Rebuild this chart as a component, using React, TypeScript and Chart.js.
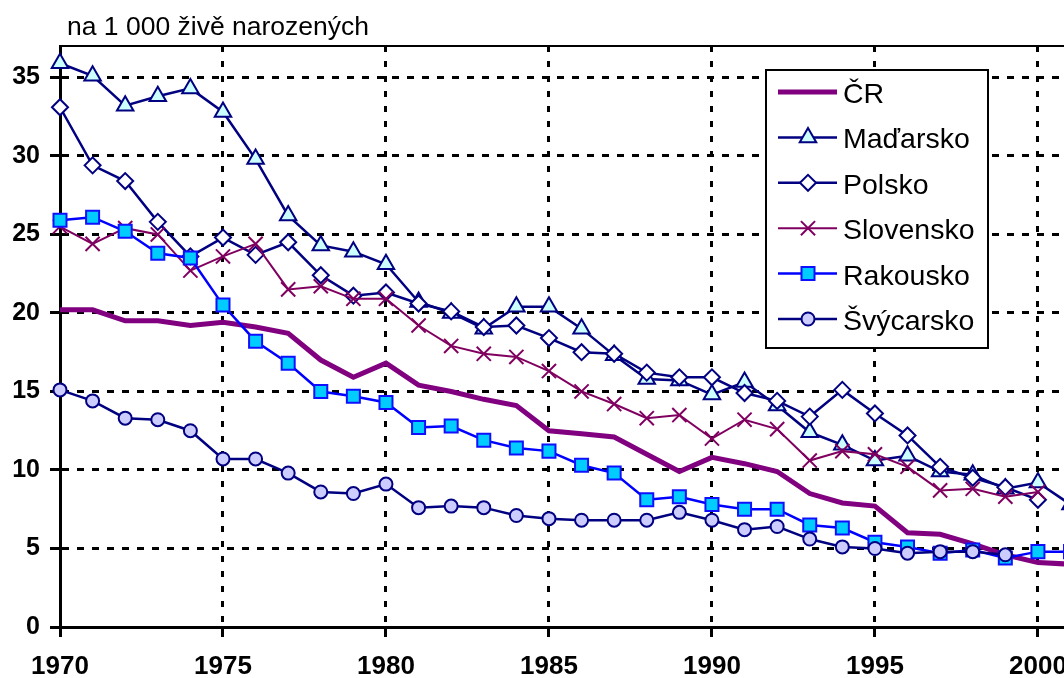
import React, { useEffect, useRef } from "react";
import { Chart, registerables } from "chart.js";

Chart.register(...registerables);

const years = [
  1970, 1971, 1972, 1973, 1974, 1975, 1976, 1977, 1978, 1979,
  1980, 1981, 1982, 1983, 1984, 1985, 1986, 1987, 1988, 1989,
  1990, 1991, 1992, 1993, 1994, 1995, 1996, 1997, 1998, 1999,
  2000, 2001,
];

const cr = [
  20.2, 20.2, 19.5, 19.5, 19.2, 19.4, 19.1, 18.7, 17.0, 15.9,
  16.8, 15.4, 15.0, 14.5, 14.1, 12.5, 12.3, 12.1, 11.0, 9.9,
  10.8, 10.4, 9.9, 8.5, 7.9, 7.7, 6.0, 5.9, 5.3, 4.6,
  4.1, 4.0,
];

const madarsko = [
  35.9, 35.1, 33.2, 33.8, 34.3, 32.8, 29.8, 26.2, 24.3, 23.9,
  23.1, 20.7, 20.0, 19.0, 20.4, 20.4, 19.0, 17.3, 15.8, 15.7,
  14.8, 15.6, 14.1, 12.4, 11.6, 10.6, 10.9, 9.9, 9.7, 8.8,
  9.2, 7.8,
];

const polsko = [
  33.1, 29.4, 28.4, 25.8, 23.6, 24.8, 23.7, 24.5, 22.4, 21.1,
  21.3, 20.6, 20.1, 19.1, 19.2, 18.4, 17.5, 17.4, 16.2, 15.9,
  15.9, 14.9, 14.4, 13.4, 15.1, 13.6, 12.2, 10.2, 9.5, 8.9,
  8.1, null,
];

const slovensko = [
  25.5, 24.4, 25.4, 25.0, 22.7, 23.6, 24.4, 21.5, 21.7, 20.9,
  20.9, 19.2, 17.9, 17.4, 17.2, 16.3, 15.0, 14.2, 13.3, 13.5,
  12.0, 13.2, 12.6, 10.6, 11.2, 11.0, 10.2, 8.7, 8.8, 8.3,
  8.6, null,
];

const rakousko = [
  25.9, 26.1, 25.2, 23.8, 23.5, 20.5, 18.2, 16.8, 15.0, 14.7,
  14.3, 12.7, 12.8, 11.9, 11.4, 11.2, 10.3, 9.8, 8.1, 8.3,
  7.8, 7.5, 7.5, 6.5, 6.3, 5.4, 5.1, 4.7, 4.9, 4.4,
  4.8, 4.8,
];

const svycarsko = [
  15.1, 14.4, 13.3, 13.2, 12.5, 10.7, 10.7, 9.8, 8.6, 8.5,
  9.1, 7.6, 7.7, 7.6, 7.1, 6.9, 6.8, 6.8, 6.8, 7.3,
  6.8, 6.2, 6.4, 5.6, 5.1, 5.0, 4.7, 4.8, 4.8, 4.6,
  null, null,
];

const seriesLabels = ["ČR", "Maďarsko", "Polsko", "Slovensko", "Rakousko", "Švýcarsko"];
const xTickValues = [1970, 1975, 1980, 1985, 1990, 1995, 2000];
const yTickValues = [0, 5, 10, 15, 20, 25, 30, 35];
const yTitle = "na 1 000 živě narozených";

const FONT = "'Liberation Sans', Arial, sans-serif";

function toPoints(values: (number | null)[]) {
  return years.map((y, i) => ({ x: y, y: values[i] }));
}

function drawMarker(
  ctx: CanvasRenderingContext2D,
  style: string,
  x: number,
  y: number,
  r: number,
  fill: string,
  stroke: string,
  lw: number
) {
  ctx.beginPath();
  if (style === "triangle") {
    ctx.moveTo(x, y - r);
    ctx.lineTo(x + r * 0.866, y + r * 0.5);
    ctx.lineTo(x - r * 0.866, y + r * 0.5);
    ctx.closePath();
  } else if (style === "rectRot") {
    ctx.moveTo(x - r, y);
    ctx.lineTo(x, y - r);
    ctx.lineTo(x + r, y);
    ctx.lineTo(x, y + r);
    ctx.closePath();
  } else if (style === "rect") {
    const s = r * Math.SQRT1_2;
    ctx.rect(x - s, y - s, 2 * s, 2 * s);
  } else if (style === "circle") {
    ctx.arc(x, y, r, 0, Math.PI * 2);
  } else if (style === "crossRot") {
    const s = r * Math.SQRT1_2;
    ctx.moveTo(x - s, y - s);
    ctx.lineTo(x + s, y + s);
    ctx.moveTo(x + s, y - s);
    ctx.lineTo(x - s, y + s);
  }
  if (style !== "crossRot" && fill) {
    ctx.fillStyle = fill;
    ctx.fill();
  }
  ctx.lineWidth = lw;
  ctx.strokeStyle = stroke;
  ctx.stroke();
}

const overlayPlugin = {
  id: "overlay",
  afterDraw(chart: any) {
    const ctx: CanvasRenderingContext2D = chart.ctx;
    const { left, top } = chart.chartArea;
    ctx.save();
    // top frame line
    ctx.strokeStyle = "#000";
    ctx.lineWidth = 2;
    ctx.beginPath();
    ctx.moveTo(left - 1, top);
    ctx.lineTo(chart.width, top);
    ctx.stroke();

    // axis title
    ctx.fillStyle = "#000";
    ctx.font = `26.5px ${FONT}`;
    ctx.textAlign = "left";
    ctx.textBaseline = "alphabetic";
    ctx.fillText(yTitle, 67, 35);

    // legend
    const bx = 766, by = 70, bw = 222, bh = 278;
    ctx.fillStyle = "#fff";
    ctx.fillRect(bx, by, bw, bh);
    ctx.lineWidth = 2;
    ctx.strokeStyle = "#000";
    ctx.strokeRect(bx, by, bw, bh);

    const datasets = chart.data.datasets;
    ctx.font = `28.5px ${FONT}`;
    datasets.forEach((ds: any, i: number) => {
      const cy = 92 + i * 45.4;
      ctx.beginPath();
      ctx.moveTo(778, cy);
      ctx.lineTo(837, cy);
      ctx.lineWidth = ds.borderWidth;
      ctx.strokeStyle = ds.borderColor;
      ctx.stroke();
      if (ds.pointRadius > 0) {
        drawMarker(
          ctx,
          ds.pointStyle,
          808,
          cy,
          ds.pointRadius,
          ds.pointBackgroundColor,
          ds.pointBorderColor,
          ds.pointBorderWidth
        );
      }
      ctx.fillStyle = "#000";
      ctx.fillText(ds.label, 843, cy + 11);
    });
    ctx.restore();
  },
};

export default function App() {
  const canvasRef = useRef<HTMLCanvasElement | null>(null);

  useEffect(() => {
    const canvas = canvasRef.current;
    if (!canvas) return;
    const yTickFont = { family: FONT, size: 25, weight: "bold" as const };
    const xTickFont = { family: FONT, size: 26, weight: "bold" as const };

    const chart = new Chart(canvas, {
      type: "line",
      data: {
        datasets: [
          {
            label: seriesLabels[0],
            data: toPoints(cr),
            borderColor: "#800080",
            borderWidth: 5,
            pointRadius: 0,
            pointHoverRadius: 0,
            pointStyle: "circle",
            pointBackgroundColor: "#800080",
            pointBorderColor: "#800080",
            pointBorderWidth: 0,
            order: 6,
            clip: false,
          },
          {
            label: seriesLabels[1],
            data: toPoints(madarsko),
            borderColor: "#000080",
            borderWidth: 2.5,
            pointStyle: "triangle",
            pointRadius: 9.5,
            pointBackgroundColor: "#CCFFFF",
            pointBorderColor: "#000080",
            pointBorderWidth: 2,
            order: 5,
            clip: false,
          },
          {
            label: seriesLabels[2],
            data: toPoints(polsko),
            borderColor: "#000080",
            borderWidth: 2.5,
            pointStyle: "rectRot",
            pointRadius: 8,
            pointBackgroundColor: "#FFFFFF",
            pointBorderColor: "#000080",
            pointBorderWidth: 2,
            order: 4,
            clip: false,
          },
          {
            label: seriesLabels[3],
            data: toPoints(slovensko),
            borderColor: "#800060",
            borderWidth: 2,
            pointStyle: "crossRot",
            pointRadius: 10,
            pointBackgroundColor: "#800060",
            pointBorderColor: "#800060",
            pointBorderWidth: 2,
            order: 3,
            clip: false,
          },
          {
            label: seriesLabels[4],
            data: toPoints(rakousko),
            borderColor: "#0000FF",
            borderWidth: 2.5,
            pointStyle: "rect",
            pointRadius: 9.2,
            pointBackgroundColor: "#00CCFF",
            pointBorderColor: "#1010FF",
            pointBorderWidth: 2,
            order: 2,
            clip: false,
          },
          {
            label: seriesLabels[5],
            data: toPoints(svycarsko),
            borderColor: "#000080",
            borderWidth: 2.5,
            pointStyle: "circle",
            pointRadius: 6.5,
            pointBackgroundColor: "#CCCCFF",
            pointBorderColor: "#000080",
            pointBorderWidth: 2,
            order: 1,
            clip: false,
          },
        ] as any,
      },
      options: {
        animation: false,
        responsive: false,
        devicePixelRatio: 1,
        events: [],
        spanGaps: false,
        elements: { line: { tension: 0 } },
        layout: {
          padding: { top: 46, left: 0, right: 0, bottom: 0 },
          autoPadding: false,
        } as any,
        plugins: {
          legend: { display: false },
          title: { display: false },
          tooltip: { enabled: false },
        },
        scales: {
          x: {
            type: "linear",
            min: 1970,
            max: 2000.8,
            afterBuildTicks: (s: any) => {
              s.ticks = xTickValues.map((v) => ({ value: v }));
            },
            afterFit: (s: any) => {
              s.height = 51;
              s.paddingRight = 0;
              s.paddingLeft = 0;
            },
            ticks: {
              font: xTickFont,
              color: "#000",
              padding: 14,
              maxRotation: 0,
              autoSkip: false,
              callback: (v: any) => String(v),
            },
            grid: {
              color: "#000",
              lineWidth: 3,
              drawTicks: true,
              tickLength: 10,
              tickColor: "#000",
              tickWidth: 3,
            },
            border: { display: true, color: "#000", width: 3, dash: [6, 9] },
          },
          y: {
            type: "linear",
            min: 0,
            max: 37,
            afterBuildTicks: (s: any) => {
              s.ticks = yTickValues.map((v) => ({ value: v }));
            },
            afterFit: (s: any) => {
              s.width = 60;
              s.paddingTop = 0;
              s.paddingBottom = 0;
            },
            ticks: {
              font: yTickFont,
              color: "#000",
              padding: 10,
              callback: (v: any) => String(v),
            },
            grid: {
              color: "#000",
              lineWidth: 3,
              drawTicks: true,
              tickLength: 10,
              tickColor: "#000",
              tickWidth: 3,
            },
            border: { display: true, color: "#000", width: 3, dash: [7, 8] },
          },
        },
      } as any,
      plugins: [overlayPlugin],
    });
    return () => chart.destroy();
  }, []);

  return (
    <div style={{ position: "absolute", left: 0, top: 0, width: 1064, height: 678, background: "#fff" }}>
      <canvas ref={canvasRef} width={1064} height={678} style={{ display: "block" }} />
    </div>
  );
}
